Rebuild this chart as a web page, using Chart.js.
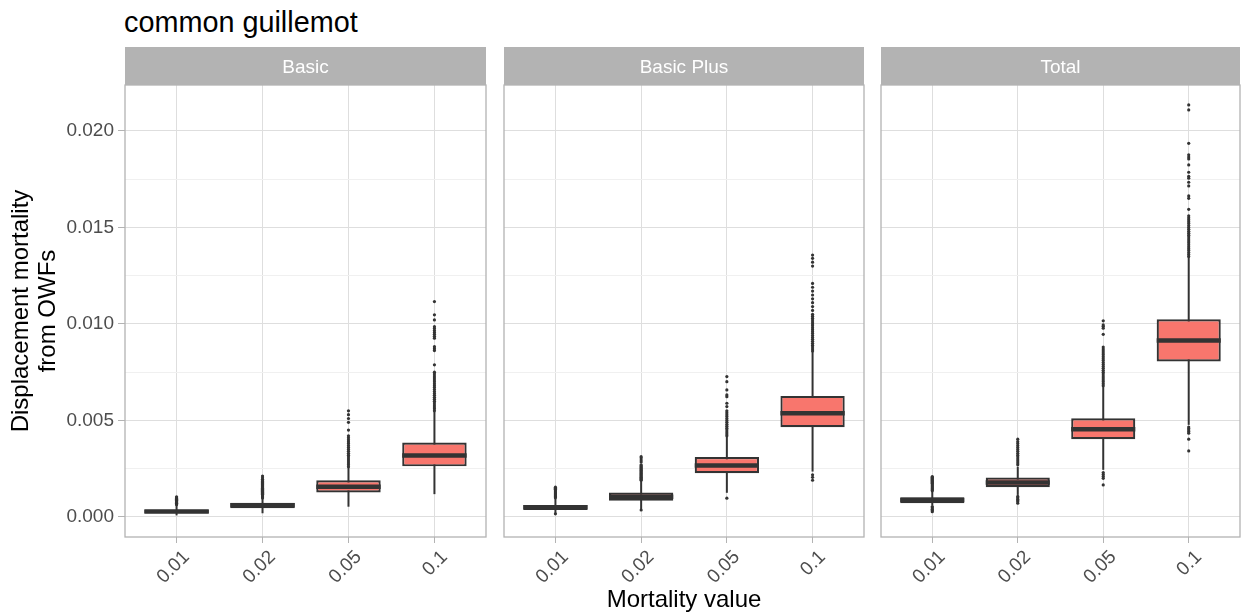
<!DOCTYPE html>
<html>
<head>
<meta charset="utf-8">
<script src="https://cdn.jsdelivr.net/npm/chart.js@4.4.1/dist/chart.umd.min.js"></script>
<style>
  body { margin: 0; background: #ffffff; font-family: "Liberation Sans", Arial, sans-serif; }
  #wrap { position: relative; width: 1245px; height: 616px; overflow: hidden; }
  #title { position: absolute; left: 124px; top: 5px; font-size: 28.8px; line-height: 34px; color: #000; }
  canvas { position: absolute; top: 47px; }
</style>
</head>
<body>
<div id="wrap">
  <div id="title">common guillemot</div>
  <canvas id="panel0" width="490" height="569" style="left:0px"></canvas>
  <canvas id="panel1" width="368" height="569" style="left:500px"></canvas>
  <canvas id="panel2" width="367" height="569" style="left:877px"></canvas>
</div>
<script>
// categories and facets
const categories = ["0.01", "0.02", "0.05", "0.1"];
const facets = ["Basic", "Basic Plus", "Total"];
const yMajorTicks = [0, 0.005, 0.010, 0.015, 0.020];
const yMinorTicks = [0.0025, 0.0075, 0.0125, 0.0175];
const yRange = [-0.00104, 0.02238];

// Basic
const basicLow  = [0.00008, 0.00019, 0.00053, 0.00118];
const basicQ1   = [0.00019, 0.00045, 0.00127, 0.00262];
const basicMed  = [0.00028, 0.00060, 0.00157, 0.00318];
const basicQ3   = [0.00037, 0.00074, 0.00190, 0.00385];
const basicHigh = [0.00060, 0.00095, 0.00255, 0.00545];
const basicOutliers = [
  [0.00063, 0.00067, 0.00071, 0.00075, 0.00079, 0.00083, 0.00087, 0.00091, 0.00095, 0.00099, 0.00104],
  [0.00098, 0.00103, 0.00108, 0.00113, 0.00118, 0.00123, 0.00128, 0.00133, 0.00138, 0.00143, 0.00148,
   0.00153, 0.00158, 0.00163, 0.00168, 0.00173, 0.00178, 0.00183, 0.00188, 0.00195, 0.00203, 0.00212],
  [0.0026, 0.0027, 0.0028, 0.0029, 0.0030, 0.0031, 0.0032, 0.0033, 0.0034, 0.0035, 0.0036, 0.0037,
   0.0038, 0.0039, 0.0040, 0.0041, 0.0042, 0.0045, 0.0049, 0.0051, 0.0053, 0.0055],
  [0.0055, 0.0056, 0.0057, 0.0058, 0.0059, 0.0060, 0.0061, 0.0062, 0.0063, 0.0064, 0.0065, 0.0066,
   0.0067, 0.0068, 0.0069, 0.0070, 0.0071, 0.0072, 0.0073, 0.0074, 0.0075, 0.00788, 0.00862, 0.00872,
   0.00882, 0.00926, 0.00936, 0.00946, 0.00956, 0.00966, 0.00976, 0.00986, 0.01021, 0.01047, 0.01116]
];

// Basic Plus
const plusLow  = [0.00020, 0.00040, 0.00125, 0.00235];
const plusQ1   = [0.00036, 0.00084, 0.00226, 0.00465];
const plusMed  = [0.00050, 0.00105, 0.00266, 0.00537];
const plusQ3   = [0.00062, 0.00126, 0.00310, 0.00627];
const plusHigh = [0.00095, 0.00188, 0.00416, 0.00857];
const plusOutliers = [
  [0.00016, 0.00099, 0.00104, 0.00109, 0.00114, 0.00119, 0.00124, 0.00129, 0.00134, 0.00139, 0.00144,
   0.00149, 0.00154],
  [0.00036, 0.0019, 0.00195, 0.0020, 0.00205, 0.0021, 0.00215, 0.0022, 0.00225, 0.0023, 0.00235, 0.0024,
   0.00245, 0.0025, 0.00255, 0.0026, 0.00265, 0.0027, 0.00285, 0.00295, 0.00305, 0.00312],
  [0.00097, 0.0042, 0.0043, 0.0044, 0.0045, 0.0046, 0.0047, 0.0048, 0.0049, 0.0050, 0.0051, 0.0052,
   0.0053, 0.0054, 0.0055, 0.00572, 0.00589, 0.00623, 0.00632, 0.00658, 0.00701, 0.00727],
  [0.0019, 0.00205, 0.00218, 0.0086, 0.0087, 0.0088, 0.0089, 0.0090, 0.0091, 0.0092, 0.0093, 0.0094,
   0.0095, 0.0096, 0.0097, 0.0098, 0.0099, 0.0100, 0.0101, 0.0102, 0.0103, 0.0104, 0.0105, 0.0107,
   0.0109, 0.0111, 0.0113, 0.0115, 0.0117, 0.0119, 0.0121, 0.0130, 0.0132, 0.0134, 0.01357]
];

// Total
const totalLow  = [0.00060, 0.00114, 0.00244, 0.00477];
const totalQ1   = [0.00071, 0.00154, 0.00403, 0.00805];
const totalMed  = [0.00088, 0.00178, 0.00454, 0.00914];
const totalQ3   = [0.00102, 0.00204, 0.00511, 0.01024];
const totalHigh = [0.00130, 0.00260, 0.00675, 0.01349];
const totalOutliers = [
  [0.00027, 0.00033, 0.00040, 0.00047, 0.00054, 0.00135, 0.00140, 0.00145, 0.00150, 0.00155, 0.00160,
   0.00165, 0.00170, 0.00175, 0.00180, 0.00185, 0.00190, 0.00195, 0.00200, 0.00205, 0.00209],
  [0.00071, 0.00078, 0.00085, 0.00092, 0.00099, 0.00106, 0.0027, 0.0028, 0.0029, 0.0030, 0.0031,
   0.0032, 0.0033, 0.0034, 0.0035, 0.0036, 0.0037, 0.0038, 0.0039, 0.00403],
  [0.00166, 0.0020, 0.0021, 0.0022, 0.0023, 0.0068, 0.0069, 0.0070, 0.0071, 0.0072, 0.0073, 0.0074,
   0.0075, 0.0076, 0.0077, 0.0078, 0.0079, 0.0080, 0.0081, 0.0082, 0.0083, 0.0084, 0.0085, 0.0086,
   0.0087, 0.0088, 0.00946, 0.00978, 0.00988, 0.00995, 0.01016],
  [0.00342, 0.00403, 0.00434, 0.00442, 0.00450, 0.00458, 0.00466, 0.0135, 0.0136, 0.0137, 0.0138,
   0.0139, 0.0140, 0.0141, 0.0142, 0.0143, 0.0144, 0.0145, 0.0146, 0.0147, 0.0148, 0.0149, 0.0150,
   0.0151, 0.0152, 0.0153, 0.0154, 0.0155, 0.0156, 0.01594, 0.01651, 0.01663, 0.01715, 0.01734,
   0.01755, 0.01765, 0.01786, 0.01824, 0.01855, 0.01865, 0.01876, 0.01936, 0.02109, 0.02135]
];

const stats = [
  { low: basicLow, q1: basicQ1, med: basicMed, q3: basicQ3, high: basicHigh, out: basicOutliers },
  { low: plusLow, q1: plusQ1, med: plusMed, q3: plusQ3, high: plusHigh, out: plusOutliers },
  { low: totalLow, q1: totalQ1, med: totalMed, q3: totalQ3, high: totalHigh, out: totalOutliers }
];

const FONT = "'Liberation Sans', Arial, sans-serif";
const isMajor = v => yMajorTicks.some(t => Math.abs(t - v) < 1e-9);

// strip, whiskers, medians and the panel border
function boxDecor(s) {
  return {
    id: "boxDecor",
    beforeDraw(chart) {
      const { ctx, chartArea } = chart;
      ctx.save();
      ctx.fillStyle = "#B3B3B3";
      ctx.fillRect(chartArea.left, 0, chartArea.right - chartArea.left, chartArea.top);
      ctx.restore();
    },
    beforeDatasetsDraw(chart) {
      const { ctx, scales } = chart;
      ctx.save();
      ctx.strokeStyle = "#333333";
      ctx.lineWidth = 2;
      categories.forEach((c, i) => {
        const x = scales.x.getPixelForValue(i + 1);
        ctx.beginPath();
        ctx.moveTo(x, scales.y.getPixelForValue(s.low[i]));
        ctx.lineTo(x, scales.y.getPixelForValue(s.high[i]));
        ctx.stroke();
      });
      ctx.restore();
    },
    afterDatasetsDraw(chart) {
      const { ctx, scales } = chart;
      const bars = chart.getDatasetMeta(1).data;
      ctx.save();
      ctx.strokeStyle = "#333333";
      ctx.lineWidth = 4.5;
      categories.forEach((c, i) => {
        const y = scales.y.getPixelForValue(s.med[i]);
        const half = bars[i].width / 2;
        ctx.beginPath();
        ctx.moveTo(bars[i].x - half, y);
        ctx.lineTo(bars[i].x + half, y);
        ctx.stroke();
      });
      ctx.restore();
    },
    afterDraw(chart) {
      const { ctx, chartArea } = chart;
      ctx.save();
      ctx.strokeStyle = "#B3B3B3";
      ctx.lineWidth = 1.3;
      ctx.strokeRect(chartArea.left, chartArea.top, chartArea.right - chartArea.left, chartArea.bottom - chartArea.top);
      ctx.restore();
    }
  };
}

facets.forEach(function (facet, p) {
  const s = stats[p];
  const first = p === 0;
  const canvas = document.getElementById("panel" + p);

  new Chart(canvas.getContext("2d"), {
    type: "bar",
    data: {
      datasets: [
        {
          type: "line",
          label: "outliers",
          data: s.out.flatMap((vals, i) => vals.map(v => ({ x: i + 1, y: v }))),
          showLine: false,
          pointRadius: 1.6,
          pointBackgroundColor: "#333333",
          pointBorderWidth: 0,
          order: 0
        },
        {
          label: facet,
          data: categories.map((c, i) => ({ x: i + 1, y: [s.q1[i], s.q3[i]] })),
          backgroundColor: "#F8766D",
          borderColor: "#333333",
          borderWidth: 2.2,
          borderSkipped: false,
          barPercentage: 0.75,
          categoryPercentage: 1,
          order: 1
        }
      ]
    },
    options: {
      responsive: false,
      animation: false,
      layout: { padding: { left: first ? 0 : 2, right: 2, top: 0, bottom: 0 } },
      plugins: {
        legend: { display: false },
        tooltip: { enabled: false },
        title: {
          display: true,
          text: facet,
          fullSize: false,
          color: "#ffffff",
          font: { family: FONT, size: 19, weight: "normal", lineHeight: 1.2 },
          padding: { top: 9.6, bottom: 5.6 }
        }
      },
      scales: {
        x: {
          type: "linear",
          min: 0.4,
          max: 4.6,
          offset: false,
          afterBuildTicks: sc => { sc.ticks = categories.map((c, i) => ({ value: i + 1 })); },
          afterFit: sc => { sc.height = 79; sc.paddingLeft = 0; sc.paddingRight = 0; },
          grid: { offset: false, color: "#DEDEDE", lineWidth: 1, tickColor: "#B3B3B3", tickLength: 6 },
          border: { display: false },
          ticks: {
            minRotation: 45,
            maxRotation: 45,
            padding: 3,
            labelOffset: 10,
            color: "#4D4D4D",
            font: { family: FONT, size: 19 },
            callback: v => categories[Math.round(v) - 1]
          },
          title: {
            display: p === 1,
            text: "Mortality value",
            color: "#000000",
            font: { family: FONT, size: 24, lineHeight: 1.12 },
            padding: { top: 0, bottom: 2 }
          }
        },
        y: {
          min: yRange[0],
          max: yRange[1],
          beginAtZero: false,
          afterBuildTicks: sc => {
            sc.ticks = yMajorTicks.concat(yMinorTicks).sort((a, b) => a - b).map(v => ({ value: v }));
          },
          afterFit: sc => { sc.width = first ? 125 : 0; sc.paddingTop = 0; sc.paddingBottom = 0; },
          grid: {
            color: ctx => isMajor(ctx.tick.value) ? "#DEDEDE" : "#F0F0F0",
            lineWidth: 1,
            drawTicks: first,
            tickLength: 7,
            tickColor: ctx => isMajor(ctx.tick.value) ? "#B3B3B3" : "rgba(0,0,0,0)"
          },
          border: { display: false },
          ticks: {
            display: first,
            padding: 4,
            color: "#4D4D4D",
            font: { family: FONT, size: 19 },
            callback: v => isMajor(v) ? v.toFixed(3) : ""
          },
          title: {
            display: first,
            text: ["Displacement mortality", "from OWFs"],
            color: "#000000",
            font: { family: FONT, size: 24, lineHeight: 1.12 },
            padding: { top: 8, bottom: 0 }
          }
        }
      }
    },
    plugins: [boxDecor(s)]
  });
});
</script>
</body>
</html>
